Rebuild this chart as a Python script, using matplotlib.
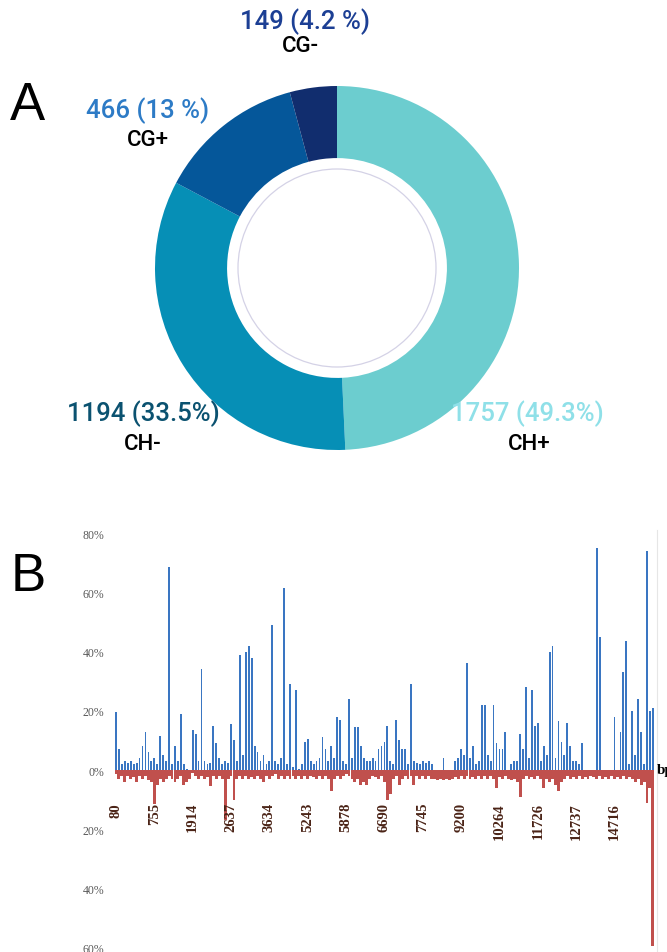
import matplotlib
matplotlib.use('Agg')
import matplotlib.pyplot as plt
import matplotlib.ticker as mtick
import numpy as np

"------------------ panel A data"
donut_names = ['CH+', 'CH-', 'CG+', 'CG-']
donut_counts = [1757, 1194, 466, 149]
donut_pct = ['49.3%', '33.5%', '13 %', '4.2 %']
donut_colors = ['#6ccdcf', '#068fb6', '#05579a', '#112d6e']
number_colors = ['#8fe0e8', '#0b5270', '#2d7bc6', '#1c3f94']

"------------------ panel B data (% per site window, + strand up, - strand down)"
plus_strand = [19.6, 7, 2, 3, 2.5, 3, 2, 2.5, 4, 8,
               13, 6, 3, 4, 2, 11.5, 5, 3, 68.6, 2,
               8, 3, 19, 2, 0.5, 0, 13.5, 12, 3, 34,
               3, 2, 2.5, 15, 9, 4, 2, 3, 2.5, 15.5,
               10, 3, 39, 5, 40, 42, 38, 8, 6, 3,
               5, 2, 3, 49, 3, 2, 4, 61.5, 2, 29,
               1, 27, 0.5, 2, 9.5, 10.5, 3, 2, 3, 4,
               11, 7, 3, 8, 4, 18, 17, 3, 2, 24,
               4, 14.5, 14.5, 8, 4, 3, 3, 4, 3, 7,
               8, 9.5, 15, 3, 2, 17, 10, 7, 7, 2,
               29, 3, 2.5, 2, 3, 2.5, 3, 2, 0, 0,
               0, 4, 0, 0, 0, 3, 4, 7, 5, 36,
               4, 8, 2, 3, 22, 22, 5, 3, 22, 9,
               7, 7, 13, 0, 2, 3, 3, 12, 7, 28,
               4, 27, 15, 16, 3, 8, 5, 40, 42, 4,
               16.5, 9.5, 5, 16, 8, 3, 3, 2, 9, 0,
               0, 0, 0, 75, 45, 0, 0, 0, 0, 18,
               0, 13, 33, 43.5, 2, 20, 5, 24, 13, 2,
               74, 20, 21, 0]
minus_strand = [-1.5, -3, -2, -4, -2, -3, -2.5, -4, -2, -3,
                -2, -3.5, -4, -11.5, -5, -3, -4, -3, -2, -3,
                -4, -3, -2, -5, -4, -3, -1, -2, -3, -2,
                -3, -2.5, -5.5, -2, -3, -2, -3, -17, -3, -2,
                -10, -3, -2, -3, -2, -3, -2.5, -3, -2, -3,
                -4, -2, -3, -2, -1.5, -3, -2, -3, -2, -3,
                -2, -3, -2, -3, -2, -3, -2, -2.5, -3, -2,
                -3, -2, -3, -7, -3, -2, -3, -2, -1.5, -2,
                -3, -4, -3, -5, -4, -5, -3, -2, -2.5, -3,
                -2, -4, -10, -8, -3, -2, -5, -3, -2, -3,
                -2, -5, -2, -3, -2, -3, -2, -3, -3, -3.5,
                -3, -3.5, -3, -3.5, -3, -2.5, -3, -2, -3, -2,
                -3, -2.5, -3, -2, -3, -2, -3, -2, -3, -6,
                -2.5, -3, -2, -3, -3.5, -3, -4, -9, -3, -2,
                -3, -2.5, -3, -2, -3, -6, -3, -4, -3, -5,
                -7, -4, -3, -2, -3, -2.5, -3, -2, -3, -2.5,
                -3, -2, -2.5, -3, -2, -3, -2.5, -3, -2, -3,
                -2.5, -3, -2, -3, -2.5, -3, -4, -3, -5, -4,
                -11, -6, -59.5, 0]
tick_labels = ['80', '755', '1914', '2637', '3634', '5243', '5878', '6690',
               '7745', '9200', '10264', '11726', '12737', '14716']
"----------------------------"

W, H = 667, 953
fig = plt.figure(figsize=(W/100, H/100), dpi=100)

# ---------- A: donut
R = 182.0
cx, cy = 337, 269
ax1 = fig.add_axes([0, 1-500/H, 1, 500/H])
ax1.pie(donut_counts, colors=donut_colors, startangle=90, counterclock=False,
        radius=1, wedgeprops=dict(width=0.396, linewidth=0))
ax1.add_patch(plt.Circle((0, 0), 0.544, fill=False, ec='#d4d2e6', lw=0.9, zorder=4))
ax1.set_aspect('auto')
ax1.set_xlim(-cx/R, (W-cx)/R)
ax1.set_ylim(-(500-cy)/R, cy/R)
ax1.axis('off')

# label anchor points (pixels): number x,y then name x,y
lab_px = [(527, 414, 529, 444), (143, 414, 143, 444), (148, 111, 148, 140), (305, 22, 300, 47)]
for i in range(len(donut_names)):
    nx, ny, tx, ty = lab_px[i]
    ax1.text((nx-cx)/R, (cy-ny)/R, '%d (%s)' % (donut_counts[i], donut_pct[i]),
             color=number_colors[i], fontsize=18.5, family='Roboto', fontweight='medium',
             ha='center', va='center')
    ax1.text((tx-cx)/R, (cy-ty)/R, donut_names[i], color='black', fontsize=16,
             family='Roboto', fontweight='medium', ha='center', va='center')

fig.text(10/W, 1-106/H, 'A', fontsize=38, family='Liberation Sans', va='center', ha='left')
fig.text(11/W, 1-577/H, 'B', fontsize=38, family='Liberation Sans', va='center', ha='left')

# ---------- B: strand bars
ax2 = fig.add_axes([114.5/W, 1-951.6/H, 542.8/W, 420.4/H])
ax2.spines['bottom'].set_position(('data', 0))
ax2.spines['bottom'].set_visible(False)
ax2.spines['top'].set_visible(False)
ax2.spines['left'].set_visible(False)
ax2.spines['right'].set_color('#e6e6e6')
ax2.spines['right'].set_linewidth(0.8)

x = np.arange(len(plus_strand))
ax2.bar(x, plus_strand, width=0.6, color='#3a76c2', linewidth=0)
ax2.bar(x, minus_strand, width=1.0, color='#c0504d', linewidth=0)
ax2.set_xlim(-0.5, len(plus_strand)-0.5)
ax2.set_ylim(-61, 81)

ax2.set_yticks(np.arange(-60, 81, 20))
ax2.yaxis.set_major_formatter(mtick.FuncFormatter(lambda v, p: '%d%%' % abs(v)))
ax2.tick_params(axis='y', length=0, pad=7.5, labelsize=8.5, labelcolor='#595959')
for lab in ax2.get_yticklabels():
    lab.set_family('Liberation Serif')
    lab.set_verticalalignment('center_baseline')

ax2.set_xticks(np.arange(len(tick_labels))*13)
ax2.set_xticklabels(tick_labels, rotation=90, family='Liberation Serif',
                    fontweight='bold', fontsize=10.5, color='#4a2316')
ax2.tick_params(axis='x', length=0, pad=23)

fig.text(657/W, 1-771/H, 'bp', fontsize=11, family='Liberation Serif', fontweight='bold',
         va='center', ha='left')

plt.savefig('out.png', dpi=100)
